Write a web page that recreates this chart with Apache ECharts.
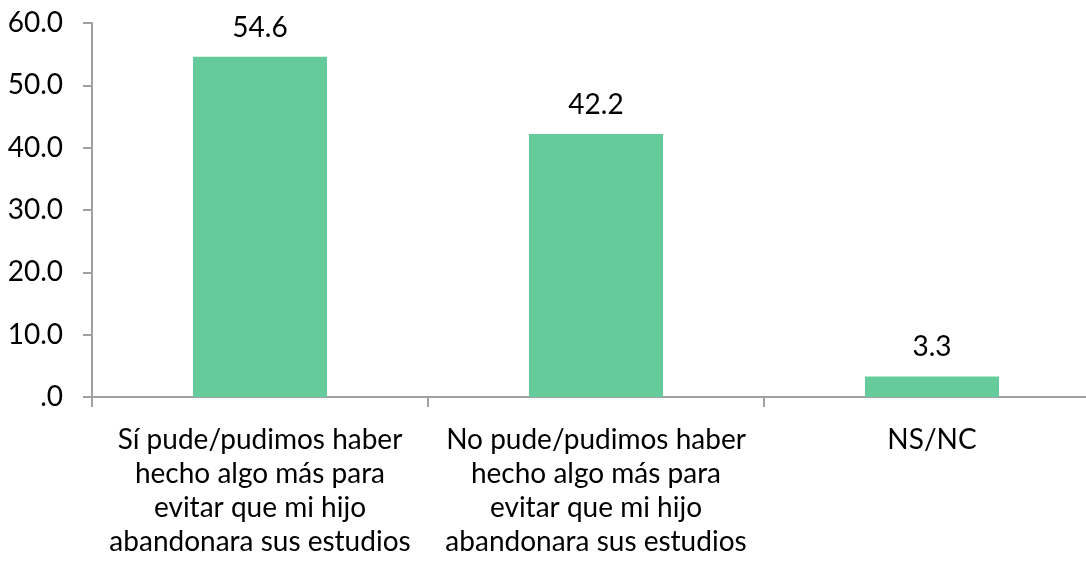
<!DOCTYPE html>
<html>
<head>
<meta charset="utf-8">
<script src="https://cdn.jsdelivr.net/npm/echarts@6/dist/echarts.min.js"></script>
<style>html,body{margin:0;padding:0;background:#fff;}#c{width:1086px;height:563px;}</style>
</head>
<body>
<div id="c"></div>
<script>
const categories = [
  "Sí pude/pudimos haber\nhecho algo más para\nevitar que mi hijo\nabandonara sus estudios",
  "No pude/pudimos haber\nhecho algo más para\nevitar que mi hijo\nabandonara sus estudios",
  "NS/NC"
];
const values = [54.6, 42.2, 3.3];
const yTicks = { min: 0, max: 60, interval: 10 };

const font = "Lato, 'Open Sans', sans-serif";
const chart = echarts.init(document.getElementById('c'));
chart.setOption({
  animation: false,
  backgroundColor: '#fff',
  grid: { left: 92, top: 23, width: 1008, height: 374, containLabel: false, outerBoundsMode: 'none' },
  xAxis: {
    type: 'category',
    data: categories,
    axisLine: { lineStyle: { color: '#a0a0a0', width: 2 } },
    axisTick: { show: true, length: 10, alignWithLabel: false, lineStyle: { color: '#a0a0a0', width: 2 } },
    axisLabel: { color: '#000', fontFamily: font, fontSize: 28, lineHeight: 34, margin: 26, interval: 0 }
  },
  yAxis: {
    type: 'value',
    min: yTicks.min, max: yTicks.max, interval: yTicks.interval,
    splitLine: { show: false },
    axisLine: { show: true, lineStyle: { color: '#a0a0a0', width: 2 } },
    axisTick: { show: true, length: 9, lineStyle: { color: '#a0a0a0', width: 2 } },
    axisLabel: {
      color: '#000', fontFamily: font, fontSize: 28, margin: 29,
      formatter: v => v === 0 ? '.0' : v.toFixed(1)
    }
  },
  series: [{
    type: 'bar',
    data: values,
    barWidth: 134,
    itemStyle: { color: '#65cb9b' },
    label: {
      show: true, position: 'top', distance: 15,
      color: '#000', fontFamily: font, fontSize: 28,
      formatter: p => p.value.toFixed(1)
    }
  }]
});
</script>
</body>
</html>
